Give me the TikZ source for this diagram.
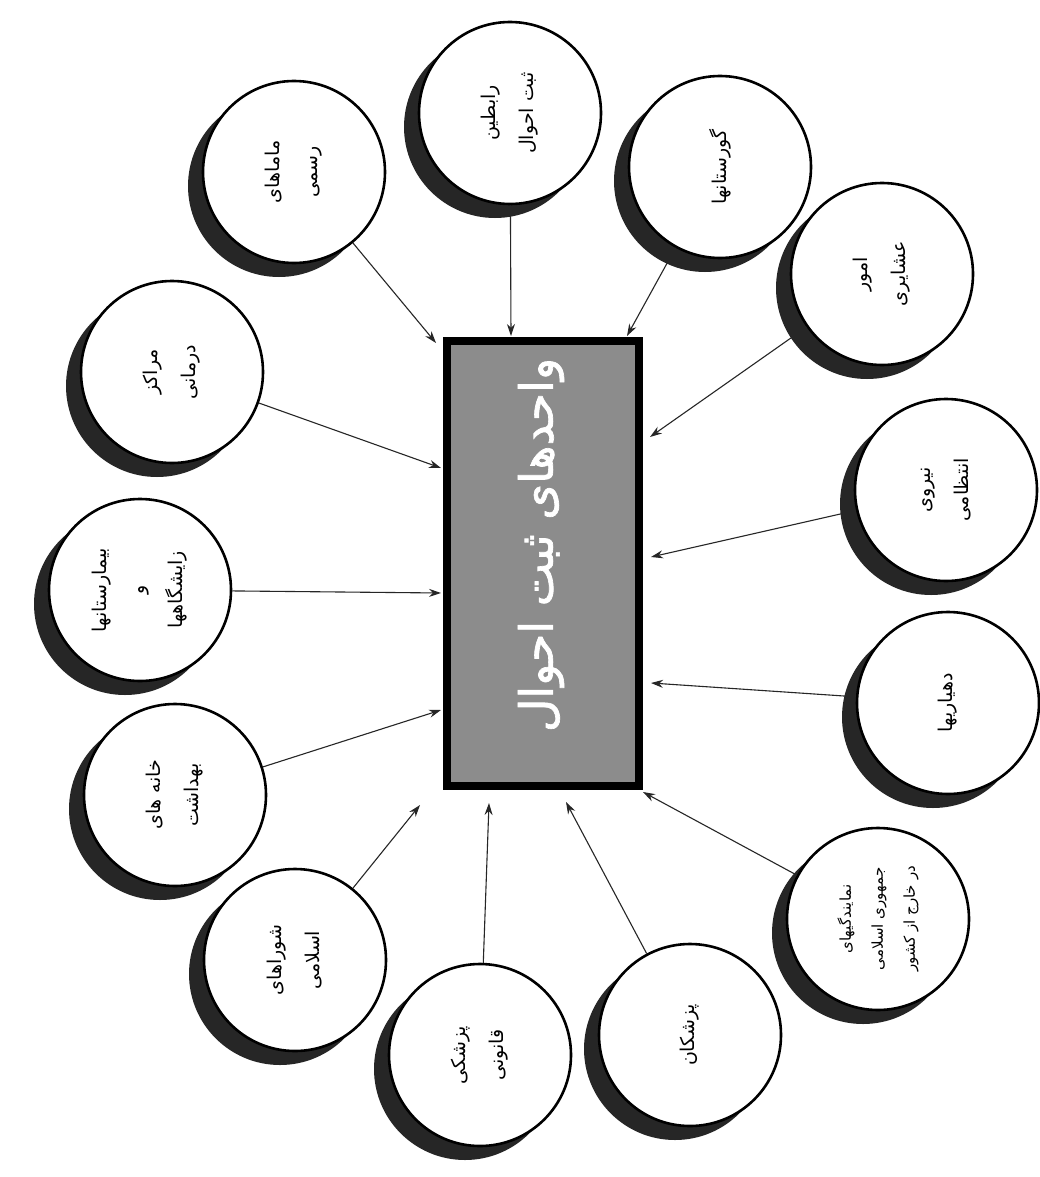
\documentclass[tikz,border=0pt]{standalone}
\usepackage{fontspec}
\usetikzlibrary{shadows,arrows.meta}
\TeXXeTstate=1
\newfontfamily\arabicfont[Script=Arabic]{DejaVu Sans}
\newfontfamily\arabicbold[Script=Arabic,FakeBold=1.5]{DejaVu Sans}
\newcommand{\fatxt}[1]{\beginR #1\endR}
\begin{document}
\begin{tikzpicture}[x=1pt,y=-1pt,
  src/.style={circle, draw=black, line width=2.6pt, fill=white, minimum size=182pt, inner sep=0pt,
    drop shadow={shadow xshift=-15pt, shadow yshift=-14pt, fill=black!85, opacity=1},
    font=\arabicfont\fontsize{19}{38}\selectfont, align=center, rotate=90},
  hub/.style={rectangle, draw=black, line width=8pt, fill=black!45, minimum width=192pt, minimum height=445pt, inner sep=0pt},
  feed/.style={-{Stealth[length=12pt,width=8pt]}, line width=1.1pt, black!85}]
\useasboundingbox (0,0) rectangle (1040,1177);
\fill[white] (0,0) rectangle (1040,1177);

\node[hub] (box) at (543,563.5) {};
\node[rotate=90, text=white, font=\arabicbold\fontsize{46}{50}\selectfont] (boxlabel) at (541,545) {\fatxt{واحدهای ثبت احوال}};

\node[src] (c1)  at (294,172)  {\fatxt{ماماهای}\\\fatxt{رسمی}};
\node[src] (c2)  at (510,113)  {\fatxt{رابطین}\\\fatxt{ثبت احوال}};
\node[src] (c3)  at (720,167)  {\fatxt{گورستانها}};
\node[src] (c4)  at (882,274)  {\fatxt{امور}\\\fatxt{عشایری}};
\node[src] (c5)  at (946,490)  {\fatxt{نیروی}\\\fatxt{انتظامی}};
\node[src] (c6)  at (948,703)  {\fatxt{دهیاریها}};
\node[src, font=\arabicfont\fontsize{15}{32}\selectfont] (c7)  at (878,919)  {\fatxt{نمایندگیهای}\\\fatxt{جمهوری اسلامی}\\\fatxt{در خارج از کشور}};
\node[src] (c8)  at (690,1035) {\fatxt{پزشکان}};
\node[src] (c9)  at (480,1055) {\fatxt{پزشکی}\\\fatxt{قانونی}};
\node[src] (c10) at (295,960)  {\fatxt{شوراهای}\\\fatxt{اسلامی}};
\node[src] (c11) at (175,795)  {\fatxt{خانه های}\\\fatxt{بهداشت}};
\node[src] (c12) at (140,590)  {\fatxt{بیمارستانها}\\\fatxt{و}\\\fatxt{زایشگاهها}};
\node[src] (c13) at (172,372)  {\fatxt{مراکز}\\\fatxt{درمانی}};

\coordinate (t1)  at (436,343);
\coordinate (t2)  at (511,336);
\coordinate (t3)  at (627,336);
\coordinate (t4)  at (650,437);
\coordinate (t5)  at (651,557);
\coordinate (t6)  at (651,683);
\coordinate (t7)  at (643,792);
\coordinate (t8)  at (566,802);
\coordinate (t9)  at (489,803);
\coordinate (t10) at (420,805);
\coordinate (t11) at (441,710);
\coordinate (t12) at (441,593);
\coordinate (t13) at (441,468);

\foreach \i in {1,...,13} {\draw[feed] (c\i) -- (t\i);}
\end{tikzpicture}
\end{document}
